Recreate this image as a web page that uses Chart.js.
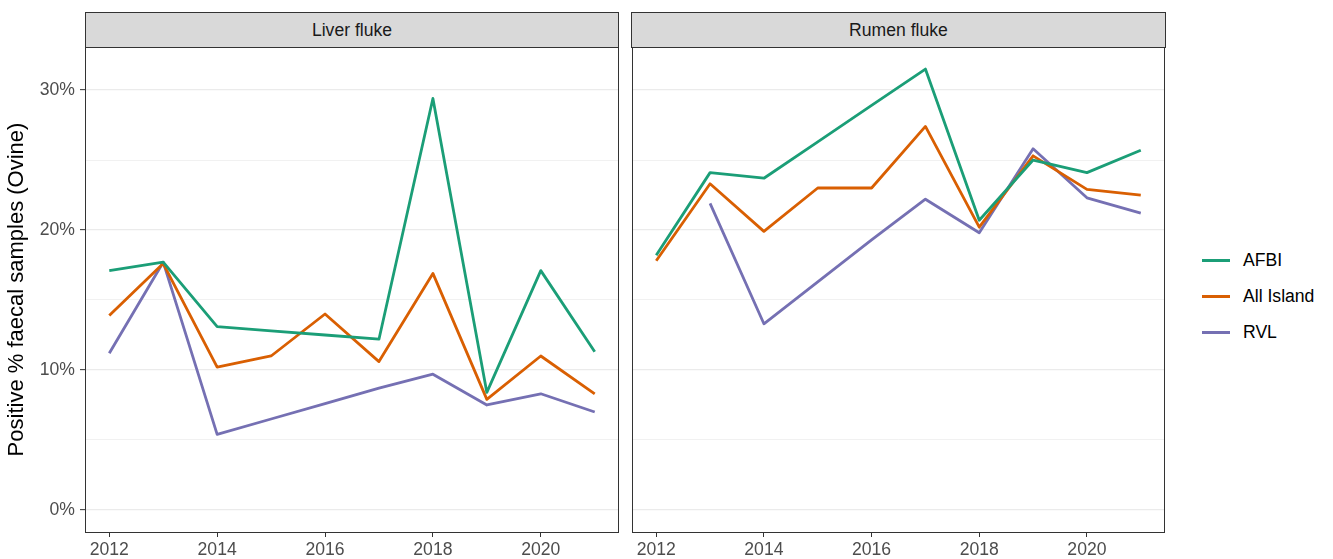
<!DOCTYPE html>
<html>
<head>
<meta charset="utf-8">
<script src="https://cdn.jsdelivr.net/npm/chart.js@4.4.1/dist/chart.umd.min.js"></script>
<style>
  html, body { margin: 0; padding: 0; background: #ffffff; }
  body { width: 1333px; height: 559px; position: relative; overflow: hidden; font-family: "Liberation Sans", Arial, sans-serif; }
  canvas { position: absolute; top: 0; }
  .strip { position: absolute; box-sizing: border-box; background: #D9D9D9; border: 1px solid #333333;
           color: #1A1A1A; font-size: 17.6px; text-align: center; display: flex; align-items: center; justify-content: center; }
  .legend { position: absolute; left: 1202px; top: 0; }
  .lg-item { position: absolute; left: 0; width: 130px; height: 24px; display: flex; align-items: center; white-space: nowrap; }
  .lg-key { width: 28px; height: 3px; margin-right: 13px; }
  .lg-text { font-size: 17.6px; color: #000000; }
</style>
</head>
<body>
<canvas id="c1" width="619" height="559" style="left:0px"></canvas>
<canvas id="c2" width="565" height="559" style="left:600px"></canvas>
<div class="strip" id="s1" style="left:85px; top:12px; width:534px; height:36px;"></div>
<div class="strip" id="s2" style="left:631px; top:12px; width:535px; height:36px;"></div>
<div class="legend" id="legend"></div>
<script>
// ---- Data ----
const years = [2012, 2013, 2014, 2015, 2016, 2017, 2018, 2019, 2020, 2021];
const panels = ["Liver fluke", "Rumen fluke"];
const seriesNames = ["AFBI", "All Island", "RVL"];
const seriesColors = ["#1B9E77", "#D95F02", "#7570B3"];

const liverAFBI   = [17.1, 17.7, 13.1, 12.8, 12.5, 12.2, 29.4, 8.4, 17.1, 11.3];
const liverAll    = [13.9, 17.6, 10.2, 11.0, 14.0, 10.6, 16.9, 7.9, 11.0, 8.3];
const liverRVL    = [11.2, 17.7, 5.4, 6.5, 7.6, 8.7, 9.7, 7.5, 8.3, 7.0];

const rumenAFBI   = [18.2, 24.1, 23.7, 26.3, 28.9, 31.5, 20.7, 25.0, 24.1, 25.7];
const rumenAll    = [17.8, 23.3, 19.9, 23.0, 23.0, 27.4, 20.2, 25.3, 22.9, 22.5];
const rumenRVL    = [null, 21.9, 13.3, 16.3, 19.3, 22.2, 19.8, 25.8, 22.3, 21.2];

const xTicks = [2012, 2014, 2016, 2018, 2020];
const yMajor = [0, 10, 20, 30];
const yTickLabels = ["0%", "10%", "20%", "30%"];
const yMinor = [5, 15, 25];
const yTitle = "Positive % faecal samples (Ovine)";

// ---- Setup ----
const FONT = "'Liberation Sans', Arial, sans-serif";
const xMin = 2011.55, xMax = 2021.45;
const yMin = -1.575, yMax = 33.075;
const yGrid = yMajor.concat(yMinor).sort((a, b) => a - b);

document.getElementById("s1").textContent = panels[0];
document.getElementById("s2").textContent = panels[1];

const legend = document.getElementById("legend");
const legendY = [260, 296, 332];
seriesNames.forEach((n, i) => {
  const it = document.createElement("div");
  it.className = "lg-item";
  it.style.top = (legendY[i] - 12) + "px";
  const k = document.createElement("div");
  k.className = "lg-key";
  k.style.background = seriesColors[i];
  const t = document.createElement("span");
  t.className = "lg-text";
  t.textContent = n;
  it.appendChild(k); it.appendChild(t);
  legend.appendChild(it);
});

const panelBorder = {
  id: "panelBorder",
  afterDraw(chart) {
    const { ctx, chartArea: a } = chart;
    ctx.save();
    ctx.strokeStyle = "#333333";
    ctx.lineWidth = 1;
    const l = Math.round(a.left), t = Math.round(a.top), r = Math.round(a.right), b = Math.round(a.bottom);
    ctx.strokeRect(l + 0.5, t + 0.5, r - l - 1, b - t);
    ctx.restore();
  }
};

function makeDatasets(lists) {
  return lists.map((vals, i) => ({
    label: seriesNames[i],
    data: years.map((yr, j) => ({ x: yr, y: vals[j] })),
    borderColor: seriesColors[i],
    backgroundColor: seriesColors[i],
    borderWidth: 2.8,
    pointRadius: 0,
    pointHoverRadius: 0,
    tension: 0,
    spanGaps: false,
    borderJoinStyle: "round",
    borderCapStyle: "butt",
    fill: false
  }));
}

function makeChart(id, lists, showY, yWidth) {
  return new Chart(document.getElementById(id), {
    type: "line",
    data: { datasets: makeDatasets(lists) },
    plugins: [panelBorder],
    options: {
      responsive: false,
      animation: false,
      devicePixelRatio: 1,
      layout: { padding: { top: 47, left: 0, right: 0, bottom: 0 } },
      plugins: { legend: { display: false }, tooltip: { enabled: false } },
      scales: {
        x: {
          type: "linear",
          min: xMin, max: xMax,
          afterBuildTicks: s => { s.ticks = xTicks.map(v => ({ value: v })); },
          afterFit: s => { s.height = 27; },
          border: { display: false },
          grid: { display: true, drawOnChartArea: false, drawTicks: true, tickLength: 5, tickColor: "#333333", tickWidth: 1 },
          ticks: { autoSkip: false, maxRotation: 0, padding: 3, color: "#4D4D4D",
                   font: { family: FONT, size: 17.6 }, callback: v => String(v) }
        },
        y: {
          type: "linear",
          min: yMin, max: yMax,
          afterBuildTicks: s => { s.ticks = yGrid.map(v => ({ value: v })); },
          afterFit: s => { s.width = yWidth; },
          border: { display: false },
          grid: {
            color: "#EBEBEB",
            lineWidth: c => (c.tick && yMajor.includes(c.tick.value)) ? 1.3 : 0.7,
            drawTicks: showY,
            tickLength: 5,
            tickWidth: 1,
            tickColor: c => (c.tick && yMajor.includes(c.tick.value)) ? "#333333" : "rgba(0,0,0,0)"
          },
          ticks: {
            display: showY, autoSkip: false, padding: 5, color: "#4D4D4D",
            font: { family: FONT, size: 17.6 },
            callback: v => { const k = yMajor.indexOf(v); return k >= 0 ? yTickLabels[k] : ""; }
          },
          title: {
            display: showY, text: yTitle, color: "#000000",
            font: { family: FONT, size: 22 }, padding: { top: 4, bottom: 0 }
          }
        }
      }
    }
  });
}

makeChart("c1", [liverAFBI, liverAll, liverRVL], true, 85);
makeChart("c2", [rumenAFBI, rumenAll, rumenRVL], false, 32);
</script>
</body>
</html>
